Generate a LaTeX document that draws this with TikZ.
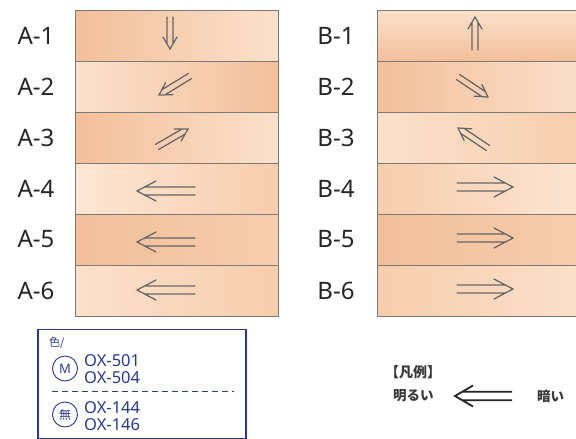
\documentclass[tikz,border=0pt]{standalone}
\usepackage{fontspec}
\setmainfont{Noto Sans}
\newfontfamily\jp{Noto Sans CJK JP}
\usetikzlibrary{calc}
\definecolor{rowline}{HTML}{7A7A7A}
\definecolor{arrowgrey}{HTML}{666666}
\definecolor{navy}{HTML}{2B3A8F}
\definecolor{legendtext}{HTML}{3A3A3A}
\definecolor{pD}{HTML}{F3BF9A}
\definecolor{pM}{HTML}{F7CDAC}
\definecolor{pL}{HTML}{FBE1CB}
\definecolor{pX}{HTML}{FCE6D4}
\tikzset{
  rowbox/.style={draw=rowline, line width=1.2pt},
  rowlabel/.style={font=\fontsize{24}{26}\selectfont, text=black!85},
  dblsty/.style={draw=arrowgrey, line width=1.25pt, line cap=round, line join=miter},
  legsty/.style={draw=black!85, line width=1.8pt, line join=miter},
  boxtext/.style={font=\fontsize{16.5}{17}\selectfont, text=navy, anchor=west, inner sep=0pt},
}
\newcommand\dblarrow[8]{%
  \pgfmathsetmacro\dang{atan2(#2-#4,#3-#1)}%
  \pgfmathsetmacro\dlen{veclen(#3-#1,#4-#2)}%
  \pgfmathsetmacro\dcut{\dlen-#6*#5/#7}%
  \begin{scope}[shift={(#1,#2)},rotate=\dang]
    \draw[#8] (0,#5) -- (\dcut,#5) (0,-#5) -- (\dcut,-#5)
      (\dlen-#6,#7) -- (\dlen,0) -- (\dlen-#6,-#7);
  \end{scope}}
\newcommand\peachrow[6]{% name, x1, y1, x2, y2, shading
  \node[rowbox, #6, minimum width={(#4-#2)*1pt}, minimum height={(#5-#3)*1pt}, anchor=north west, inner sep=0pt] (#1) at (#2,#3) {};}
\begin{document}
\begin{tikzpicture}[x=1pt,y=-1pt]
\useasboundingbox (0,0) rectangle (576,439);
\fill[white] (0,0) rectangle (576,439);
\begin{scope}
\clip (0,0) rectangle (576,439);
% A column
\peachrow{a1}{75}{10}{278}{61}{left color=pD, right color=pL}
\peachrow{a2}{75}{61}{278}{112}{left color=pL, right color=pD}
\peachrow{a3}{75}{112}{278}{163}{left color=pD, right color=pL}
\peachrow{a4}{75}{163}{278}{214}{left color=pX, right color=pM}
\peachrow{a5}{75}{214}{278}{265}{left color=pD, right color=pM}
\peachrow{a6}{75}{265}{278}{316}{left color=pL, right color=pM}
% B column
\peachrow{b1}{377}{10}{590}{61}{top color=pL, bottom color=pD}
\peachrow{b2}{377}{61}{590}{112}{left color=pD, right color=pL}
\peachrow{b3}{377}{112}{590}{163}{left color=pL, right color=pM}
\peachrow{b4}{377}{163}{590}{214}{left color=pM, right color=pX}
\peachrow{b5}{377}{214}{590}{265}{left color=pD, right color=pM}
\peachrow{b6}{377}{265}{590}{316}{left color=pM, right color=pL}
\end{scope}
% labels
\node[rowlabel] (la1) at (36,35.5) {A-1};
\node[rowlabel] (la2) at (36,86.5) {A-2};
\node[rowlabel] (la3) at (36,137.5) {A-3};
\node[rowlabel] (la4) at (36,188.5) {A-4};
\node[rowlabel] (la5) at (36,239.5) {A-5};
\node[rowlabel] (la6) at (36,290.5) {A-6};
\node[rowlabel] (lb1) at (336,35.5) {B-1};
\node[rowlabel] (lb2) at (336,86.5) {B-2};
\node[rowlabel] (lb3) at (336,137.5) {B-3};
\node[rowlabel] (lb4) at (336,188.5) {B-4};
\node[rowlabel] (lb5) at (336,239.5) {B-5};
\node[rowlabel] (lb6) at (336,290.5) {B-6};
% arrows A
\dblarrow{170}{17}{170}{49}{3}{12}{7}{dblsty}
\dblarrow{190}{76}{159}{95}{3}{12}{7}{dblsty}
\dblarrow{157}{147}{188}{129}{3}{12}{7}{dblsty}
\dblarrow{195}{191}{137}{191}{4}{19}{10}{dblsty}
\dblarrow{195}{242}{137}{242}{4}{19}{10}{dblsty}
\dblarrow{195}{290}{137}{290}{4}{19}{10}{dblsty}
% arrows B
\dblarrow{475}{50}{475}{17}{3}{12}{7}{dblsty}
\dblarrow{458}{77}{488}{97}{3}{12}{7}{dblsty}
\dblarrow{488}{148}{458}{128}{3}{12}{7}{dblsty}
\dblarrow{457}{187}{513}{187}{4}{19}{10}{dblsty}
\dblarrow{457}{238}{513}{238}{4}{19}{10}{dblsty}
\dblarrow{457}{289}{513}{289}{4}{19}{10}{dblsty}
% colour box
\node[draw=navy, line width=1.5pt, minimum width=208pt, minimum height=109pt, anchor=north west, inner sep=0pt] (cbox) at (37,328.5) {};
\node[anchor=west, inner sep=0pt, text=navy, font=\jp\fontsize{11}{11}\selectfont] (iro) at (49,343) {色/};
\node[draw=navy, line width=0.9pt, circle, minimum size=25pt, inner sep=0pt, text=navy, font=\fontsize{13}{13}\selectfont] (cm) at (65,368.5) {M};
\node[boxtext] (ox501) at (84,361) {OX-501};
\node[boxtext] (ox504) at (84,378) {OX-504};
\coordinate (dl) at (52,391);
\coordinate (dr) at (234,391);
\draw[navy, line width=0.9pt, dash pattern=on 6pt off 4pt] (dl) -- (dr);
\node[draw=navy, line width=0.9pt, circle, minimum size=25pt, inner sep=0pt, text=navy, font=\jp\fontsize{12}{12}\selectfont] (cmu) at (65,414.5) {無};
\node[boxtext] (ox144) at (84,408) {OX-144};
\node[boxtext] (ox146) at (84,425) {OX-146};
% legend
\node[anchor=west, inner sep=0pt, text=legendtext, font=\jp\bfseries\fontsize{14}{14}\selectfont] (hanrei) at (385,372) {【凡例】};
\node[anchor=west, inner sep=0pt, text=legendtext, font=\jp\bfseries\fontsize{13.5}{13.5}\selectfont] (akarui) at (393,396) {明るい};
\node[anchor=west, inner sep=0pt, text=legendtext, font=\jp\bfseries\fontsize{13.5}{13.5}\selectfont] (kurai) at (537,396) {暗い};
\dblarrow{512}{396}{455}{396}{4.2}{18}{10.5}{legsty}
\end{tikzpicture}
\end{document}
